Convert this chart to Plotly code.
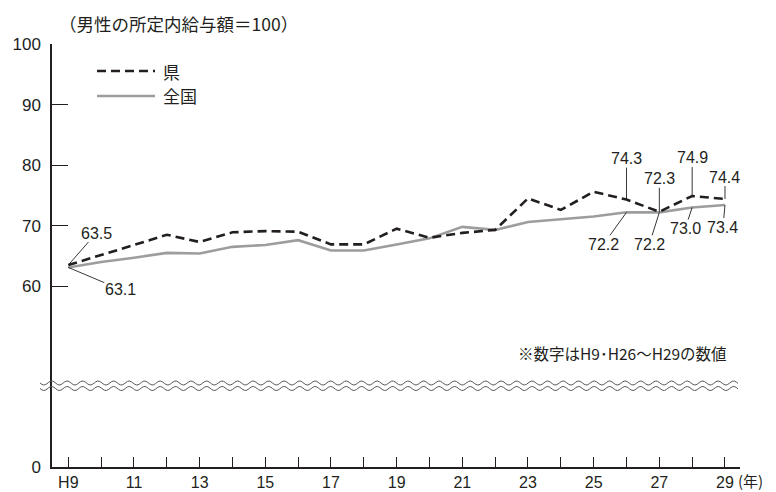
import numpy as np
import plotly.graph_objects as go

years = list(range(9, 30))
tick_text = ["H9" if y == 9 else (str(y) if y % 2 == 1 else "") for y in years]
ken = [63.5, 65.1, 66.8, 68.5, 67.3, 68.9, 69.1, 69.0, 66.9, 66.9, 69.5,
       68.0, 68.8, 69.3, 74.5, 72.6, 75.6, 74.3, 72.3, 74.9, 74.4]
zenkoku = [63.1, 64.0, 64.7, 65.5, 65.4, 66.5, 66.8, 67.6, 65.9, 65.9, 66.9,
           67.9, 69.8, 69.3, 70.6, 71.0, 71.5, 72.2, 72.2, 73.0, 73.4]
y_tickvals = [30.14, 60, 70, 80, 90, 100]
y_ticktext = ["0", "60", "70", "80", "90", "100"]

# labelled points: (series, year, ax, ay)
labels = [
    ("ken", 9, 28, -32), ("zen", 9, 52, 22),
    ("ken", 26, 0, -41), ("ken", 27, 0, -33), ("ken", 28, 0, -38), ("ken", 29, 0, -22),
    ("zen", 26, -23, 32), ("zen", 27, -10, 32), ("zen", 28, -7, 21), ("zen", 29, -2, 22),
]

TXT = "#231f20"
FONT = "Liberation Sans, Arial, Noto Sans CJK JP"
JFONT = "Noto Sans CJK JP, Liberation Sans"

fig = go.Figure()
fig.add_trace(go.Scatter(x=years, y=zenkoku, mode="lines", name="全国",
                         line=dict(color="#9d9d9d", width=2.6), showlegend=False))
fig.add_trace(go.Scatter(x=years, y=ken, mode="lines", name="県",
                         line=dict(color=TXT, width=2.6, dash="9px,5px"), showlegend=False))

ann = []
for s, yr, ax, ay in labels:
    vals = ken if s == "ken" else zenkoku
    v = vals[years.index(yr)]
    ann.append(dict(x=yr, y=v, xref="x", yref="y", text=f"{v:.1f}", showarrow=True,
                    arrowhead=0, arrowwidth=0.9, arrowcolor=TXT, ax=ax, ay=ay,
                    standoff=0, borderpad=0, font=dict(family=FONT, size=16, color=TXT)))

# plot area in px: x 52..740, y 44..467
W0, W1, T0, T1 = 52, 740, 44, 467
def px(x):
    return (x - W0) / (W1 - W0)
def py(y):
    return (T1 - y) / (T1 - T0)

ann.append(dict(x=px(57), y=py(23), xref="paper", yref="paper", xanchor="left", yanchor="middle",
                text="（男性の所定内給与額＝100）", showarrow=False,
                font=dict(family=JFONT, size=17.5, color=TXT)))
ann.append(dict(x=px(161), y=py(71), xref="paper", yref="paper", xanchor="left", yanchor="middle",
                text="県", showarrow=False, font=dict(family=JFONT, size=17, color=TXT)))
ann.append(dict(x=px(161), y=py(96), xref="paper", yref="paper", xanchor="left", yanchor="middle",
                text="全国", showarrow=False, font=dict(family=JFONT, size=17, color=TXT)))
ann.append(dict(x=px(729), y=py(353), xref="paper", yref="paper", xanchor="right", yanchor="middle",
                text="※数字はH9･H26～H29の数値", showarrow=False,
                font=dict(family=JFONT, size=15.5, color=TXT)))
ann.append(dict(x=px(736), y=py(480), xref="paper", yref="paper", xanchor="left", yanchor="middle",
                text="(年)", showarrow=False, font=dict(family=JFONT, size=15, color=TXT)))

shapes = [
    dict(type="line", xref="paper", yref="paper", x0=px(97), x1=px(155), y0=py(71), y1=py(71),
         line=dict(color=TXT, width=2.6, dash="9px,5px")),
    dict(type="line", xref="paper", yref="paper", x0=px(97), x1=px(155), y0=py(96), y1=py(96),
         line=dict(color="#9d9d9d", width=2.6)),
]
# break marks (wavy lines)
xs = np.linspace(40, 738, 400)
for yc in (383, 388.5):
    ys = yc + 2.0 * np.sin(2 * np.pi * (xs - 40) / 15.5)
    path = "M " + " L ".join(f"{px(a):.5f},{py(b):.5f}" for a, b in zip(xs, ys))
    shapes.append(dict(type="path", xref="paper", yref="paper", path=path,
                       line=dict(color="#555555", width=1)))

fig.update_layout(
    width=776, height=492,
    margin=dict(l=W0, r=776 - W1, t=T0, b=492 - T1),
    plot_bgcolor="white", paper_bgcolor="white",
    font=dict(family=FONT, color=TXT),
    annotations=ann, shapes=shapes, showlegend=False,
    xaxis=dict(range=[8.503, 29.457], tickmode="array", tickvals=years, ticktext=tick_text,
               ticks="inside", ticklen=10, tickwidth=1.2, tickcolor=TXT,
               showline=True, linecolor=TXT, linewidth=1.5, showgrid=False, zeroline=False,
               tickfont=dict(size=16, color=TXT, family=FONT), automargin=False),
    yaxis=dict(range=[30.14, 100], tickmode="array", tickvals=y_tickvals, ticktext=y_ticktext,
               ticks="inside", ticklen=16, tickwidth=1.2, tickcolor=TXT,
               showline=True, linecolor=TXT, linewidth=1.5, showgrid=False, zeroline=False,
               tickfont=dict(size=17, color=TXT, family=FONT), automargin=False,
               ticklabelstandoff=6),
)
fig.write_html("out.html", config={"displayModeBar": False},
               post_script="document.body.style.margin='0';document.body.style.overflow='hidden';")
